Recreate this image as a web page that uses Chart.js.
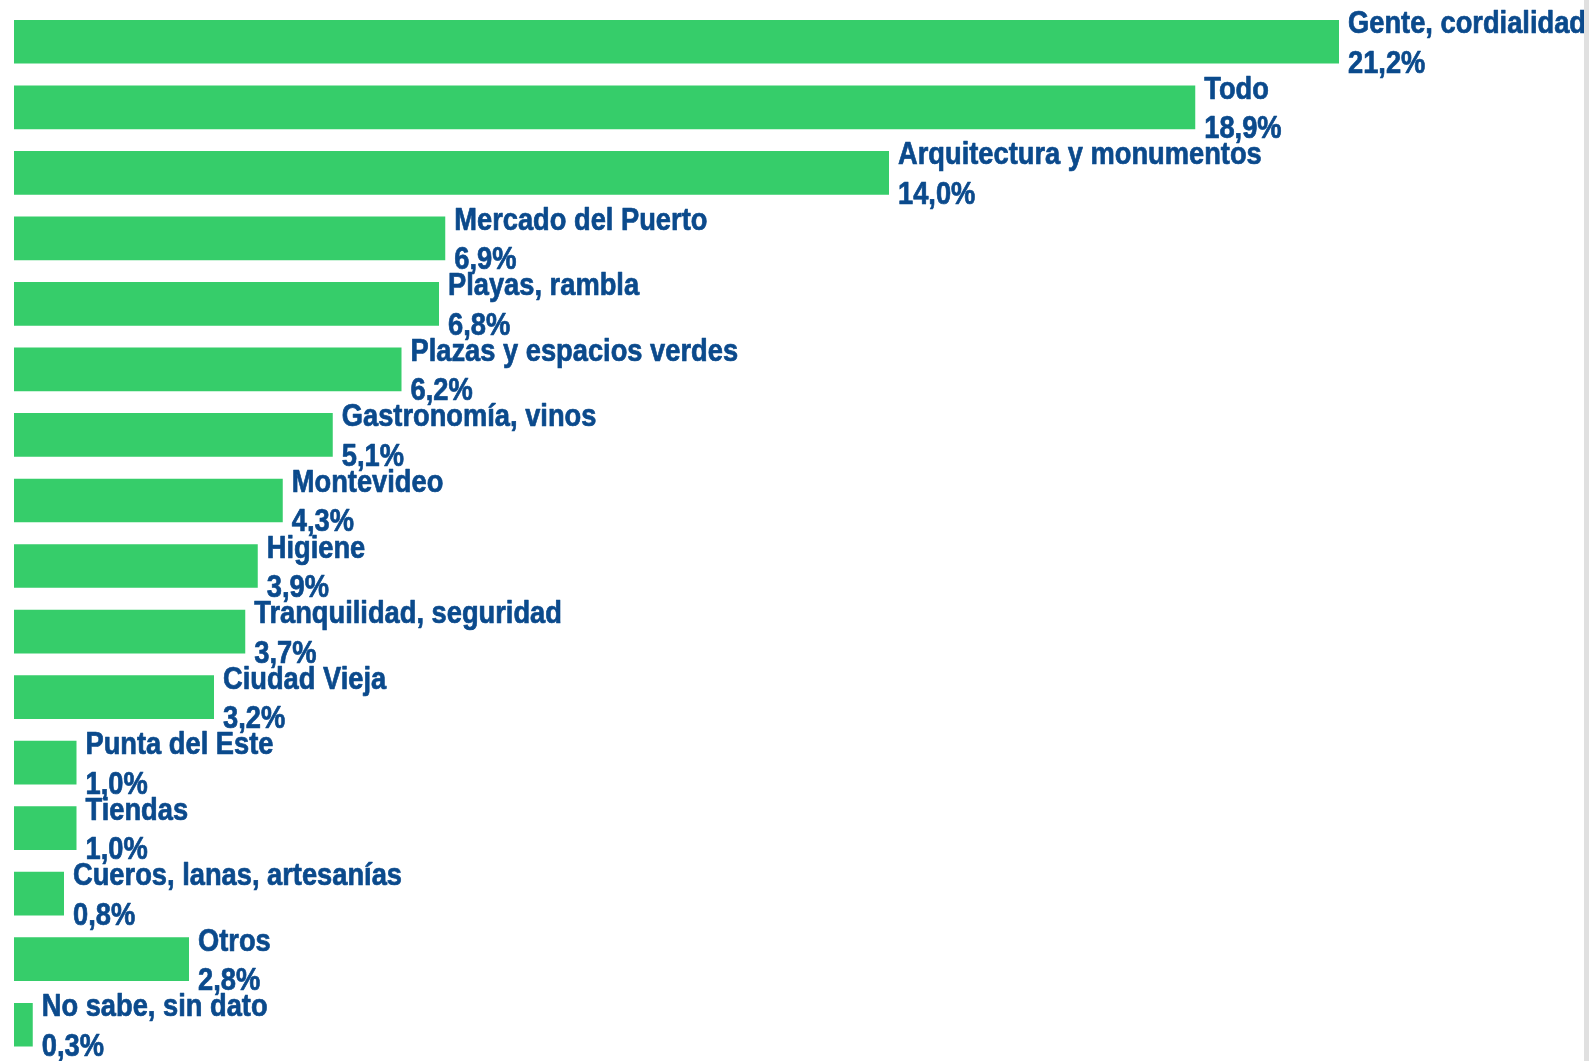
<!DOCTYPE html>
<html>
<head>
<meta charset="utf-8">
<script src="https://cdn.jsdelivr.net/npm/chart.js@4/dist/chart.umd.min.js"></script>
<style>
  html, body { margin: 0; padding: 0; background: #fff; }
  #wrap { position: relative; width: 1584px; height: 1061px; }
  #edge { position: absolute; left: 1584px; top: 0; width: 5px; height: 1061px; background: #e0e0e0; }
</style>
</head>
<body>
<div id="wrap"><canvas id="chart"></canvas></div>
<div id="edge"></div>
<script>
// Categories and values
const categories = [
  'Gente, cordialidad', 'Todo', 'Arquitectura y monumentos', 'Mercado del Puerto',
  'Playas, rambla', 'Plazas y espacios verdes', 'Gastronomía, vinos', 'Montevideo',
  'Higiene', 'Tranquilidad, seguridad', 'Ciudad Vieja', 'Punta del Este',
  'Tiendas', 'Cueros, lanas, artesanías', 'Otros', 'No sabe, sin dato'
];
const values = [21.2, 18.9, 14.0, 6.9, 6.8, 6.2, 5.1, 4.3, 3.9, 3.7, 3.2, 1.0, 1.0, 0.8, 2.8, 0.3];

const barColor = '#36cd6a';
const textColor = '#0b4a8c';

const fmt = v => v.toFixed(1).replace('.', ',') + '%';

// draws the two-line label next to each bar end
const barLabels = {
  id: 'barLabels',
  afterDatasetsDraw(chart) {
    const ctx = chart.ctx;
    const meta = chart.getDatasetMeta(0);
    ctx.save();
    ctx.fillStyle = textColor;
    ctx.strokeStyle = textColor;
    ctx.lineWidth = 0.7;
    ctx.lineJoin = 'round';
    ctx.font = 'bold 31px "Liberation Sans", Arial, sans-serif';
    ctx.textBaseline = 'alphabetic';
    meta.data.forEach((bar, i) => {
      const x = bar.x + 9;
      ctx.save();
      ctx.translate(x, bar.y);
      ctx.scale(0.88, 1);
      [[categories[i], -8.5], [fmt(values[i]), 31]].forEach(([t, dy]) => {
        ctx.fillText(t, 0, dy);
        ctx.strokeText(t, 0, dy);
      });
      ctx.restore();
    });
    ctx.restore();
  }
};

new Chart(document.getElementById('chart'), {
  type: 'bar',
  data: {
    labels: categories,
    datasets: [{
      data: values,
      backgroundColor: barColor,
      borderWidth: 0,
      barPercentage: 0.667,
      categoryPercentage: 1.0
    }]
  },
  options: {
    indexAxis: 'y',
    responsive: true,
    maintainAspectRatio: false,
    animation: false,
    devicePixelRatio: 1,
    layout: { padding: { left: 14, right: 7.5, top: 9, bottom: 3.5 } },
    plugins: { legend: { display: false }, tooltip: { enabled: false } },
    scales: {
      x: { display: false, min: 0, max: 25 },
      y: { display: false }
    }
  },
  plugins: [barLabels]
});
</script>
</body>
</html>
